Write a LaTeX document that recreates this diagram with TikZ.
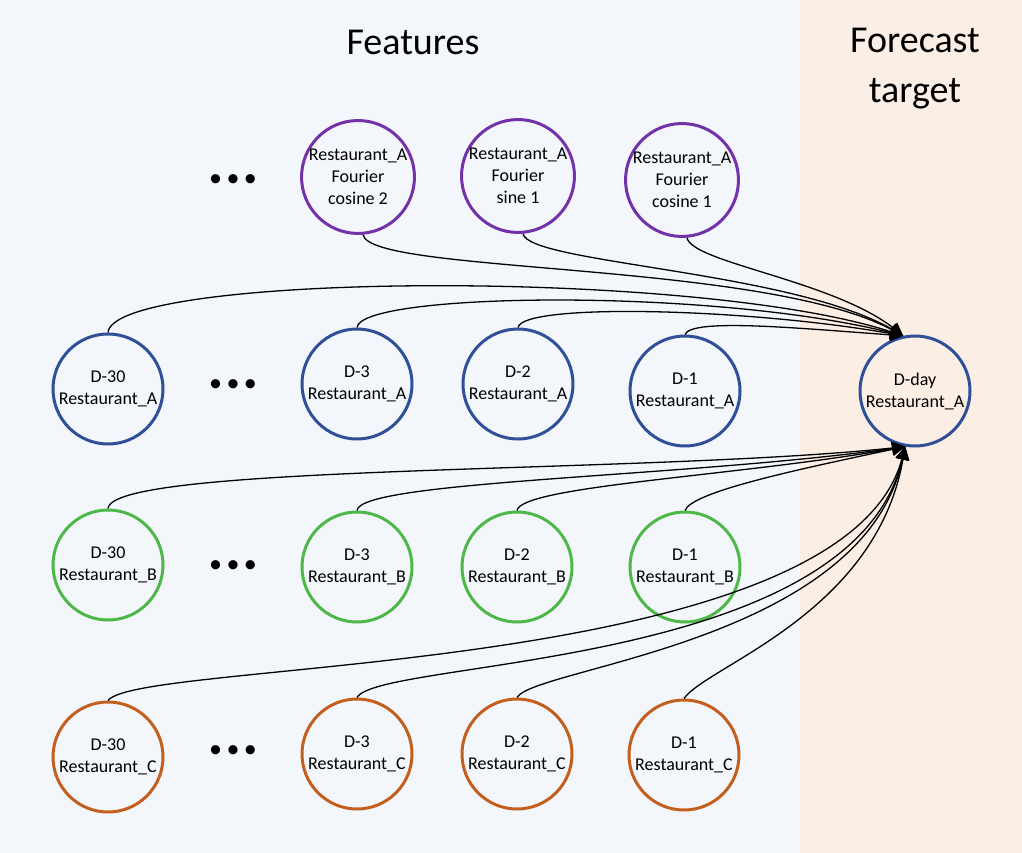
\documentclass[tikz,border=0pt]{standalone}
\usepackage{fontspec}
\setmainfont{Carlito}
\usetikzlibrary{arrows.meta}
\definecolor{bgleft}{HTML}{F3F7FC}
\definecolor{bgright}{HTML}{FBEEE5}
\definecolor{cpurple}{HTML}{7432A8}
\definecolor{cblue}{HTML}{2F4F98}
\definecolor{cgreen}{HTML}{4DB848}
\definecolor{corange}{HTML}{C45E1C}
\tikzset{
  feat/.style={circle, minimum size=110pt, inner sep=0pt, line width=3pt, align=center,
    font=\fontsize{18}{22}\selectfont},
  fp/.style={feat, draw=cpurple},
  fa/.style={feat, draw=cblue},
  fb/.style={feat, draw=cgreen},
  fc/.style={feat, draw=corange},
  dotsnode/.style={font=\fontsize{26}{26}\selectfont, inner sep=0pt},
  title/.style={font=\fontsize{38}{50}\selectfont, align=center},
  link/.style={line width=1.3pt, -{Triangle[length=13pt,width=13pt]}},
}
\newcommand{\threedots}{•\kern4.5pt•\kern4.5pt•}
\begin{document}
\begin{tikzpicture}[x=1pt,y=1pt]
\fill[bgleft] (0,0) rectangle (800,-853);
\fill[bgright] (800,0) rectangle (1022,-853);
\useasboundingbox (0,0) rectangle (1022,-853);

\node[title] (tf) at (413,-42) {Features};
\node[title] (tt) at (915,-69) {Forecast\\target};

% purple row
\node[fp] (pc2) at (358,-177) {Restaurant\_A\\Fourier\\cosine 2};
\node[fp] (ps1) at (518,-176) {Restaurant\_A\\Fourier\\sine 1};
\node[fp] (pc1) at (682,-180) {Restaurant\_A\\Fourier\\cosine 1};
\node[dotsnode] (d0) at (233,-181) {\threedots};

% blue row
\node[fa] (a30) at (108,-389) {D-30\\Restaurant\_A};
\node[fa] (a3) at (357,-384) {D-3\\Restaurant\_A};
\node[fa] (a2) at (518,-384) {D-2\\Restaurant\_A};
\node[fa] (a1) at (685,-391) {D-1\\Restaurant\_A};
\node[fa] (day) at (915,-391) {D-day\\Restaurant\_A};
\node[dotsnode] (d1) at (233,-386) {\threedots};

% green row
\node[fb] (b30) at (108,-565) {D-30\\Restaurant\_B};
\node[fb] (b3) at (357,-567) {D-3\\Restaurant\_B};
\node[fb] (b2) at (517,-567) {D-2\\Restaurant\_B};
\node[fb] (b1) at (685,-567) {D-1\\Restaurant\_B};
\node[dotsnode] (d2) at (233,-567) {\threedots};

% orange row
\node[fc] (c30) at (108,-757) {D-30\\Restaurant\_C};
\node[fc] (c3) at (357,-754) {D-3\\Restaurant\_C};
\node[fc] (c2) at (517,-754) {D-2\\Restaurant\_C};
\node[fc] (c1) at (684,-755) {D-1\\Restaurant\_C};
\node[dotsnode] (d3) at (233,-752) {\threedots};

% connectors to top of D-day
\draw[link] (pc2.-85) .. controls +(-80:40) and +(152:160) .. (day.102);
\draw[link] (ps1.-85) .. controls +(-80:30) and +(150:130) .. (day.102);
\draw[link] (pc1.-85) .. controls +(-80:25) and +(142:90) .. (day.102);
\draw[link] (a30.north) .. controls +(85:60) and +(162:220) .. (day.102);
\draw[link] (a3.north) .. controls +(85:35) and +(166:200) .. (day.102);
\draw[link] (a2.north) .. controls +(80:25) and +(170:160) .. (day.102);
\draw[link] (a1.north) .. controls +(70:18) and +(176:100) .. (day.102);

% connectors to bottom of D-day
\draw[link] (b30.north) .. controls +(85:45) and +(186:260) .. (day.-100);
\draw[link] (b3.north) .. controls +(85:30) and +(188:220) .. (day.-100);
\draw[link] (b2.north) .. controls +(80:25) and +(190:170) .. (day.-100);
\draw[link] (b1.north) .. controls +(70:20) and +(192:110) .. (day.-100);
\draw[link] (c30.north) .. controls +(53:52) and +(-105:240) .. (day.-100);
\draw[link] (c3.north) .. controls +(60:45) and +(-103:230) .. (day.-100);
\draw[link] (c2.north) .. controls +(60:35) and +(-102:200) .. (day.-100);
\draw[link] (c1.north) .. controls +(55:40) and +(-100:170) .. (day.-100);
\end{tikzpicture}
\end{document}
